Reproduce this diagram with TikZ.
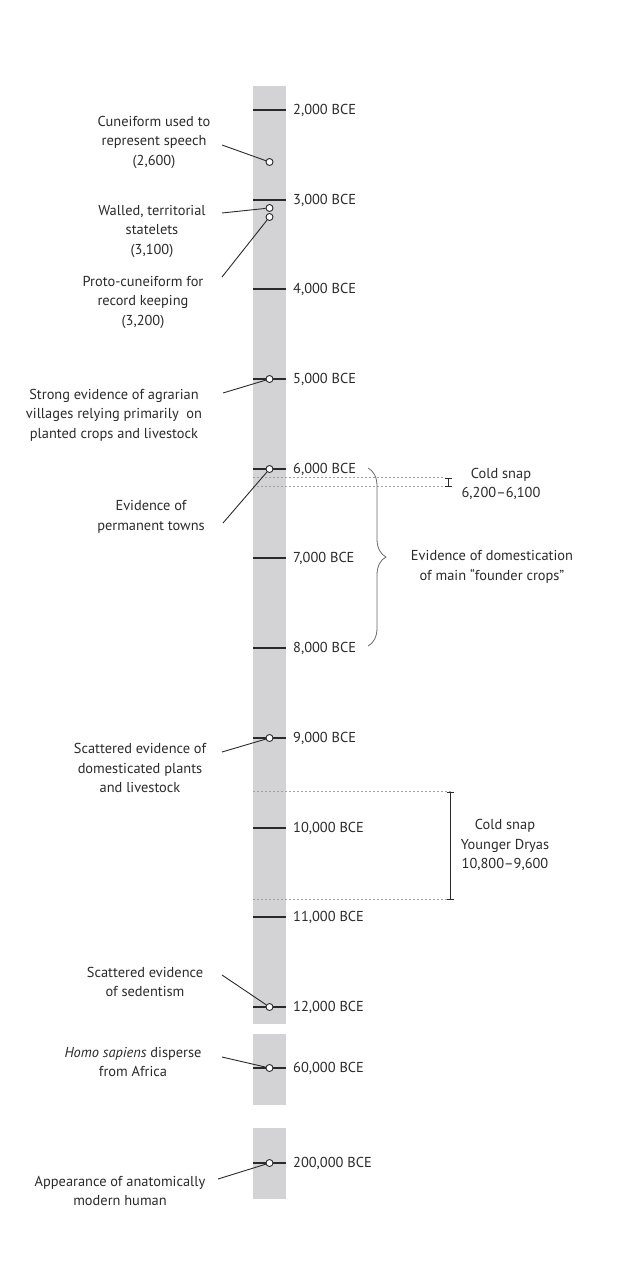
\documentclass[tikz,border=0pt]{standalone}
\usepackage{fontspec}
\setmainfont{PT Sans}
\usetikzlibrary{arrows.meta,decorations.pathreplacing}
\definecolor{ink}{HTML}{2A2A2A}
\definecolor{barfill}{HTML}{D3D3D5}
\definecolor{snapgray}{HTML}{A0A0A0}

\begin{document}
\begin{tikzpicture}
  [x=1pt, y=-1pt, font=\fontsize{14.4}{19.5}\selectfont, text=ink,
   note/.style={align=center, inner sep=0pt},
   yearlabel/.style={anchor=west, inner sep=0pt},
   dot/.style={circle, draw=ink, fill=white, line width=0.9pt, inner sep=0pt, minimum size=7pt},
   leader/.style={draw=ink, line width=0.9pt},
   tick/.style={draw=ink, line width=2pt},
   snapline/.style={draw=snapgray, dash pattern=on 2pt off 2pt, line width=0.8pt},
   span/.style={draw=ink, line width=1pt, {Bar[width=7pt]}-{Bar[width=7pt]}}]

  \useasboundingbox (0,0) rectangle (620,1268);

  % grey time bar, broken twice
  \fill[barfill] (253,86) rectangle (286,1024);
  \fill[barfill] (253,1034) rectangle (286,1105);
  \fill[barfill] (253,1128) rectangle (286,1199);

  % ticks and years
  \foreach \n/\ty in {2/110,3/200,4/289,5/379,6/469,7/558,8/648,
                      9/738,10/828,11/917,12/1007,60/1068,200/1163} {
    \draw[tick] (253,\ty) -- (286,\ty);
    \node[yearlabel] (y\n) at (293,\ty) {\n,000 BCE};
  }

  % cold snaps
  \draw[snapline] (253,477.5) -- (445,477.5);
  \draw[snapline] (253,486.5) -- (445,486.5);
  \coordinate (s1a) at (448,477.5);
  \coordinate (s1b) at (448,486.5);
  \draw[span] (s1a) -- (s1b);
  \node[note] (snap1) at (501,484) {Cold snap\\6,200--6,100};

  \draw[snapline] (253,791.5) -- (453,791.5);
  \draw[snapline] (253,899.5) -- (453,899.5);
  \coordinate (s2a) at (450,791.5);
  \coordinate (s2b) at (450,899.5);
  \draw[span] (s2a) -- (s2b);
  \node[note] (snap2) at (505,845) {Cold snap\\Younger Dryas\\10,800--9,600};

  % founder crops
  \coordinate (b1) at (368,468);
  \coordinate (b2) at (368,646);
  \draw[draw=ink!70, line width=0.8pt, decorate, decoration={brace, amplitude=18pt}] (b1) -- (b2);
  \node[note] (crops) at (492,567) {Evidence of domestication\\of main “founder crops”};

  % events
  \node[dot] (d2600) at (269.5,162) {};
  \node[dot] (d3100) at (269.5,208) {};
  \node[dot] (d3200) at (269.5,217) {};
  \node[dot] (d5000) at (269.5,379) {};
  \node[dot] (d6000) at (269.5,469) {};
  \node[dot] (d9000) at (269.5,738) {};
  \node[dot] (d12000) at (269.5,1007) {};
  \node[dot] (d60000) at (269.5,1068) {};
  \node[dot] (d200000) at (269.5,1163) {};

  \node[note] (n2600) at (154,142) {Cuneiform used to\\represent speech\\(2,600)};
  \node[note] (n3100) at (152,231) {Walled, territorial\\statelets\\(3,100)};
  \node[note] (n3200) at (143,302) {Proto-cuneiform for\\record keeping\\(3,200)};
  \node[note] (n5000) at (114,415) {Strong evidence of agrarian\\villages relying primarily\ \ on\\planted crops and livestock};
  \node[note] (n6000) at (151,517) {Evidence of\\permanent towns};
  \node[note] (n9000) at (140,768) {Scattered evidence of\\domesticated plants\\and livestock};
  \node[note] (n12000) at (145,982) {Scattered evidence\\of sedentism};
  \node[note] (n60000) at (133,1062) {\textit{Homo sapiens} disperse\\from Africa};
  \node[note] (n200000) at (120,1191) {Appearance of anatomically\\modern human};

  \coordinate (l2600) at (222,145);
  \coordinate (l3100) at (222,213);
  \coordinate (l3200) at (222,277);
  \coordinate (l5000) at (223,393);
  \coordinate (l6000) at (223,523);
  \coordinate (l9000) at (222,752);
  \coordinate (l12000) at (222,975);
  \coordinate (l60000) at (222,1057);
  \coordinate (l200000) at (218,1179);
  \foreach \e in {2600,3100,3200,5000,6000,9000,12000,60000,200000}
    \draw[leader] (l\e) -- (d\e);
\end{tikzpicture}
\end{document}
